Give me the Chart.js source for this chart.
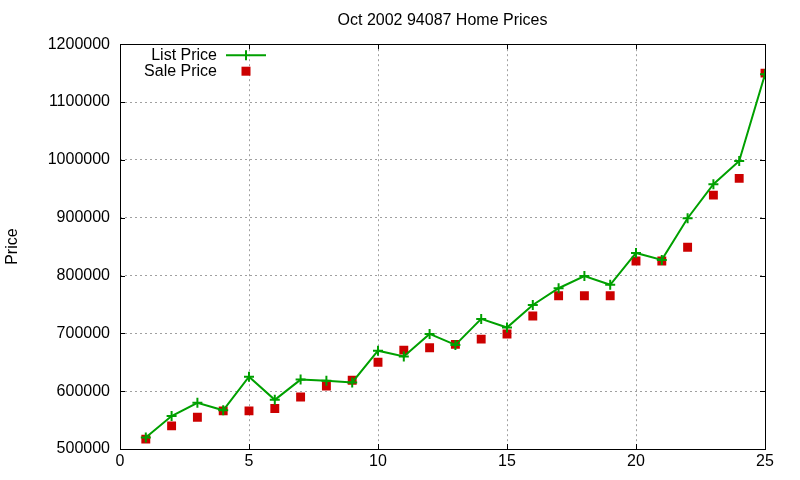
<!DOCTYPE html>
<html>
<head>
<meta charset="utf-8">
<title>Oct 2002 94087 Home Prices</title>
<script src="https://cdn.jsdelivr.net/npm/chart.js@4.4.1/dist/chart.umd.min.js"></script>
<style>
  html, body { margin: 0; padding: 0; background: #fff; }
  #wrap { width: 800px; height: 480px; }
</style>
</head>
<body>
<div id="wrap"><canvas id="priceChart" width="800" height="480"></canvas></div>
<script>
/*===== DATA =====*/
const homes = [1, 2, 3, 4, 5, 6, 7, 8, 9, 10, 11, 12, 13, 14, 15, 16, 17, 18, 19, 20, 21, 22, 23, 24, 25];
const listPrice = [
  520000, 557000, 580000, 567000, 625000, 585000, 620000, 618000, 615000, 670000,
  660000, 699000, 680000, 725000, 710000, 749000, 778000, 799000, 784000, 839000,
  827000, 899000, 958000, 998000, 1148000
];
const salePrice = [
  517000, 540000, 555000, 566000, 566000, 570000, 590000, 609000, 619000, 650000,
  671000, 675000, 681000, 690000, 699000, 730000, 765000, 765000, 765000, 825000,
  825000, 849000, 939000, 968000, 1150000
];
const xTicks = [0, 5, 10, 15, 20, 25];
const yTicks = [500000, 600000, 700000, 800000, 900000, 1000000, 1100000, 1200000];

const GREEN = "#00a000";
const RED = "#cc0000";
const FONT = "'Liberation Sans', Arial, sans-serif";

/*===== PLUGINS =====*/
// gnuplot style frame: solid border box with ticks pointing inward on all sides
const framePlugin = {
  id: "frame",
  afterDraw(chart) {
    const { ctx, chartArea: a, scales } = chart;
    const tick = 5;
    ctx.save();
    ctx.strokeStyle = "#000";
    ctx.lineWidth = 1;
    ctx.setLineDash([]);
    ctx.beginPath();
    scales.x.ticks.forEach((t) => {
      const px = Math.round(scales.x.getPixelForValue(t.value)) + 0.5;
      ctx.moveTo(px, a.bottom);
      ctx.lineTo(px, a.bottom - tick);
      ctx.moveTo(px, a.top);
      ctx.lineTo(px, a.top + tick);
    });
    scales.y.ticks.forEach((t) => {
      const py = Math.round(scales.y.getPixelForValue(t.value)) + 0.5;
      ctx.moveTo(a.left, py);
      ctx.lineTo(a.left + tick, py);
      ctx.moveTo(a.right, py);
      ctx.lineTo(a.right - tick, py);
    });
    ctx.stroke();
    ctx.strokeRect(Math.round(a.left) + 0.5, Math.round(a.top) + 0.5,
      Math.round(a.right - a.left), Math.round(a.bottom - a.top));
    ctx.restore();
  }
};

// key in the top-left corner, drawn like gnuplot's
const keyPlugin = {
  id: "key",
  afterDraw(chart) {
    const { ctx, chartArea: a } = chart;
    const textRight = a.left + 97;
    const sampleL = a.left + 106, sampleR = a.left + 146;
    const mid = (sampleL + sampleR) / 2;
    const row1 = a.top + 11, row2 = a.top + 27;

    ctx.save();
    ctx.font = "16px " + FONT;
    ctx.fillStyle = "#000";
    ctx.textAlign = "right";
    ctx.textBaseline = "middle";
    ctx.fillText("List Price", textRight, row1);
    ctx.fillText("Sale Price", textRight, row2);

    ctx.strokeStyle = GREEN;
    ctx.lineWidth = 2;
    ctx.beginPath();
    ctx.moveTo(sampleL, row1);
    ctx.lineTo(sampleR, row1);
    ctx.moveTo(mid, row1 - 5);
    ctx.lineTo(mid, row1 + 5);
    ctx.stroke();

    ctx.fillStyle = RED;
    ctx.fillRect(mid - 4.5, row2 - 4.5, 9, 9);
    ctx.restore();
  }
};

/*===== CHART =====*/
function createPriceChart() {
  const ctx = document.getElementById("priceChart").getContext("2d");

  const data = {
    datasets: [
      {
        label: "List Price",
        data: homes.map((h, i) => ({ x: h, y: listPrice[i] })),
        showLine: true,
        borderColor: GREEN,
        borderWidth: 2,
        tension: 0,
        pointStyle: "cross",
        pointRadius: 5,
        pointBorderWidth: 2,
        pointBorderColor: GREEN,
        pointBackgroundColor: GREEN
      },
      {
        label: "Sale Price",
        data: homes.map((h, i) => ({ x: h, y: salePrice[i] })),
        showLine: false,
        pointStyle: "rect",
        pointRadius: 6.3,
        pointBorderWidth: 0,
        pointBackgroundColor: RED,
        pointBorderColor: RED
      }
    ]
  };

  const options = {
    responsive: false,
    animation: false,
    devicePixelRatio: 1,
    layout: { padding: { left: 0, right: 35, top: 0, bottom: 0 } },
    plugins: {
      legend: { display: false },
      tooltip: { enabled: false },
      title: {
        display: true,
        fullSize: false,
        text: "Oct 2002 94087 Home Prices",
        color: "#000",
        font: { family: FONT, size: 16, weight: "normal" },
        padding: { top: 11, bottom: 14 }
      }
    },
    scales: {
      x: {
        type: "linear",
        min: 0,
        max: 25,
        afterBuildTicks: (scale) => {
          scale.ticks = xTicks.map((v) => ({ value: v }));
        },
        afterFit: (scale) => { scale.height = 31; },
        ticks: {
          color: "#000",
          font: { family: FONT, size: 16 },
          padding: 3,
          maxRotation: 0
        },
        grid: {
          color: "#a0a0a0",
          lineWidth: 1,
          drawTicks: false
        },
        border: { display: false, dash: [2, 3] }
      },
      y: {
        min: 500000,
        max: 1200000,
        afterBuildTicks: (scale) => {
          scale.ticks = yTicks.map((v) => ({ value: v }));
        },
        afterFit: (scale) => { scale.width = 120; },
        ticks: {
          color: "#000",
          font: { family: FONT, size: 16 },
          padding: 10,
          callback: (v) => String(v)
        },
        grid: {
          color: "#a0a0a0",
          lineWidth: 1,
          drawTicks: false
        },
        border: { display: false, dash: [2, 3] },
        title: {
          display: true,
          text: "Price",
          color: "#000",
          font: { family: FONT, size: 16 },
          padding: { top: 3, bottom: 0 }
        }
      }
    }
  };

  new Chart(ctx, {
    type: "scatter",
    data: data,
    options: options,
    plugins: [framePlugin, keyPlugin]
  });
}

createPriceChart();
</script>
</body>
</html>
